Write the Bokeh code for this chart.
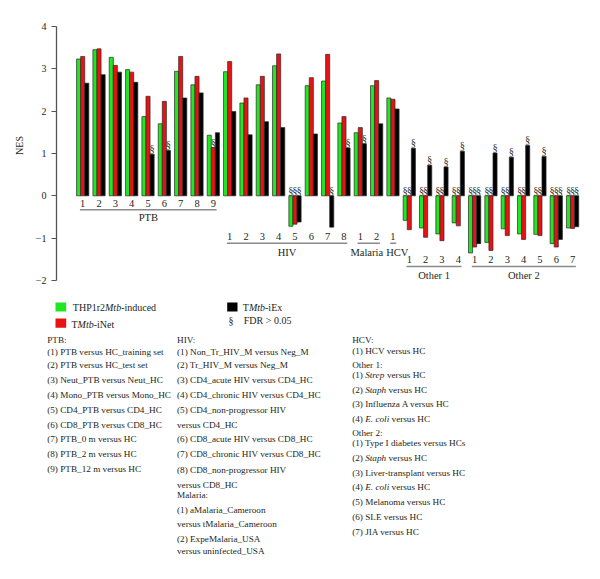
from bokeh.plotting import figure
from bokeh.models import Range1d, FixedTicker, ColumnDataSource
from bokeh.layouts import column
from bokeh.embed import file_html
from bokeh.resources import INLINE
from bokeh.core.properties import value

# ---------------- data ----------------
group_names = ["PTB", "HIV", "Malaria", "HCV", "Other 1", "Other 2"]
group_sizes = [9, 8, 2, 1, 4, 7]

thp1_induced = [3.23, 3.45, 3.27, 2.98, 1.87, 1.70, 2.94, 2.62, 1.43,
                2.93, 2.19, 2.62, 3.07, -0.72, 2.60, 2.71, 1.72,
                1.49, 2.60,
                2.31,
                -0.58, -0.76, -0.90, -0.64,
                -1.35, -1.10, -0.78, -0.90, -0.91, -1.13, -0.76]
tmtb_inet = [3.29, 3.47, 3.08, 2.92, 2.35, 2.23, 3.29, 2.82, 1.14,
             3.17, 2.31, 2.82, 3.35, -0.67, 2.79, 3.34, 1.87,
             1.61, 2.72,
             2.28,
             -0.80, -0.98, -1.06, -0.71,
             -1.21, -1.29, -0.94, -1.03, -0.94, -1.21, -0.77]
tmtb_iex = [2.66, 2.86, 2.92, 2.68, 0.98, 1.07, 2.31, 2.43, 1.49,
            1.99, 1.44, 1.75, 1.61, -0.62, 1.46, -0.74, 1.13,
            1.23, 1.70,
            2.05,
            1.12, 0.72, 0.68, 1.05,
            -1.13, 1.01, 0.91, 1.19, 0.93, -1.03, -0.73]

# FDR > 0.05 flags (1 = marked with §)
fdr_thp1 = [0, 0, 0, 0, 0, 0, 0, 0, 0,
            0, 0, 0, 0, 1, 0, 0, 0,
            0, 0,
            0,
            1, 1, 1, 1,
            1, 1, 1, 1, 1, 1, 1]
fdr_inet = [0, 0, 0, 0, 0, 0, 0, 0, 1,
            0, 0, 0, 0, 1, 0, 0, 0,
            0, 0,
            0,
            1, 1, 1, 1,
            1, 1, 1, 1, 1, 1, 1]
fdr_iex = [0, 0, 0, 0, 1, 1, 0, 0, 0,
           0, 0, 0, 0, 1, 0, 1, 1,
           1, 0,
           0,
           1, 1, 1, 1,
           1, 1, 1, 1, 1, 1, 1]

y_ticks = [-2, -1, 0, 1, 2, 3, 4]
y_tick_labels = ["\u22122", "\u22121", "0", "1", "2", "3", "4"]

ptb_notes = ["PTB:",
             "(1) PTB versus HC_training set",
             "(2) PTB versus HC_test set",
             "(3) Neut_PTB versus Neut_HC",
             "(4) Mono_PTB versus Mono_HC",
             "(5) CD4_PTB versus CD4_HC",
             "(6) CD8_PTB versus CD8_HC",
             "(7) PTB_0 m versus HC",
             "(8) PTB_2 m versus HC",
             "(9) PTB_12 m versus HC"]
hiv_notes = ["HIV:",
             "(1) Non_Tr_HIV_M versus Neg_M",
             "(2) Tr_HIV_M versus Neg_M",
             "(3) CD4_acute HIV versus CD4_HC",
             "(4) CD4_chronic HIV versus CD4_HC",
             "(5) CD4_non-progressor HIV",
             "versus CD4_HC",
             "(6) CD8_acute HIV versus CD8_HC",
             "(7) CD8_chronic HIV versus CD8_HC",
             "(8) CD8_non-progressor HIV",
             "versus CD8_HC",
             "Malaria:",
             "(1) aMalaria_Cameroon",
             "versus tMalaria_Cameroon",
             "(2) ExpeMalaria_USA",
             "versus uninfected_USA"]
# segments: (text, italic?)
other_notes = [[("HCV:", 0)],
               [("(1) HCV versus HC", 0)],
               [("Other 1:", 0)],
               [("(1) ", 0), ("Strep", 1), (" versus HC", 0)],
               [("(2) ", 0), ("Staph", 1), (" versus HC", 0)],
               [("(3) Influenza A versus HC", 0)],
               [("(4) ", 0), ("E. coli", 1), (" versus HC", 0)],
               [("Other 2:", 0)],
               [("(1) Type I diabetes versus HCs", 0)],
               [("(2) ", 0), ("Staph", 1), (" versus HC", 0)],
               [("(3) Liver-transplant versus HC", 0)],
               [("(4) ", 0), ("E. coli", 1), (" versus HC", 0)],
               [("(5) Melanoma versus HC", 0)],
               [("(6) SLE versus HC", 0)],
               [("(7) JIA versus HC", 0)]]

# ---------------- styling / layout ----------------
SERIF = "Liberation Serif"
TXT = "#231f20"
GREEN = "#22e622"
RED = "#e81212"
BLACK = "#000000"
colors = [GREEN, RED, BLACK]

W = 592
H1 = 290
H2 = 286
LEFT = 56
PX_GROUP = 16.33
PX_UNIT = 42.35
ZERO_SY = 195.3          # screen y of 0
G0_SX = 82.2             # screen x of first group centre


def sy(screen_y):
    return (ZERO_SY - screen_y) / PX_UNIT


x_start = -(G0_SX - LEFT) / PX_GROUP
x_end = x_start + (W - LEFT) / PX_GROUP
y_end = sy(0)
y_start = y_end - H1 / PX_UNIT

p1 = figure(width=W, height=H1, x_range=Range1d(x_start, x_end),
            y_range=Range1d(y_start, y_end), output_backend="svg",
            toolbar_location=None, x_axis_type=None,
            min_border_left=LEFT, min_border_right=0, min_border_top=0,
            min_border_bottom=0, outline_line_color=None, frame_align=False)
p1.grid.visible = False
ax = p1.yaxis[0]
ax.ticker = FixedTicker(ticks=y_ticks)
ax.major_label_overrides = {t: l for t, l in zip(y_ticks, y_tick_labels)}
ax.bounds = (min(y_ticks), max(y_ticks))
ax.axis_line_color = "#555555"
ax.axis_line_width = 1.3
ax.major_tick_line_color = "#555555"
ax.major_tick_line_width = 1.2
ax.major_tick_out = 5
ax.major_tick_in = 0
ax.minor_tick_line_color = None
ax.major_label_standoff = 5
ax.major_label_text_font = SERIF
ax.major_label_text_font_size = "10px"
ax.major_label_text_color = TXT
ax.axis_label = "NES"
ax.axis_label_text_font = SERIF
ax.axis_label_text_font_style = "normal"
ax.axis_label_text_font_size = "10px"
ax.axis_label_text_color = TXT
ax.axis_label_standoff = 8

n = len(thp1_induced)
idx = list(range(n))
offsets = [-0.25, 0.0, 0.25]
series = [thp1_induced, tmtb_inet, tmtb_iex]
flags = [fdr_thp1, fdr_inet, fdr_iex]

for vals, off, col in zip(series, offsets, colors):
    src = ColumnDataSource(dict(x=[i + off for i in idx], top=vals))
    p1.vbar(x="x", top="top", bottom=0, width=0.25, source=src,
            fill_color=col, line_color="#2a2a2a", line_width=0.7)

sx_, sy_, st_ = [], [], []
for vals, off, fl in zip(series, offsets, flags):
    for i in idx:
        if fl[i]:
            sx_.append(i + off)
            sy_.append(max(vals[i], 0))
            st_.append("\u00a7")
p1.text(x=sx_, y=sy_, text=st_, text_align="center", text_baseline="bottom",
        text_font=value(SERIF), text_font_size="10.5px", text_color="#333333")

# group numbering, underline and names
num_y = [202.7, 236, 236, 236, 259, 259]
line_y = [209.3, 242.7, 242.7, 242.7, 266, 266]
name_y = [217, 252, 252, 252, 274.5, 274.5]
name_dx = [0, 0, -2, 4, 0, 0]
nx, ny, nt = [], [], []
lx0, lx1, ly = [], [], []
gx, gy = [], []
start = 0
for g, size in enumerate(group_sizes):
    for k in range(size):
        nx.append(start + k)
        ny.append(sy(num_y[g]))
        nt.append(str(k + 1))
    a = start - 0.17
    b = start + size - 1 + 0.2
    lx0.append(a)
    lx1.append(b)
    ly.append(sy(line_y[g]))
    gx.append((a + b) / 2)
    gy.append(sy(name_y[g]))
    start += size
p1.text(x=nx, y=ny, text=nt, text_align="center", text_baseline="middle",
        text_font=value(SERIF), text_font_size="10.5px", text_color=TXT)
p1.segment(x0=lx0, y0=ly, x1=lx1, y1=ly, line_color="#8a8a8a", line_width=1.4)
p1.text(x=gx, y=gy, text=group_names, x_offset=name_dx, text_align="center",
        text_baseline="middle", text_font=value(SERIF), text_font_size="10.5px",
        text_color=TXT)

# ---------------- lower panel: legend and notes ----------------
p2 = figure(width=W, height=H2, x_range=Range1d(0, W), y_range=Range1d(H2, 0),
            output_backend="svg", toolbar_location=None, x_axis_type=None,
            y_axis_type=None, min_border=0, outline_line_color=None,
            frame_align=False)
p2.grid.visible = False
OX, OY = 0, H1  # screen offset of p2

# Times New Roman metrics (1/1000 em) for segment placement
REG = {' ': 250, '(': 333, ')': 333, 'T': 611, 'H': 722, 'P': 556,
       'r': 333, '-': 333}
for d in "0123456789":
    REG[d] = 500
ITA = {'M': 833, 't': 278, 'b': 500, 'S': 500, 'r': 389, 'e': 444, 'p': 500,
       'a': 500, 'h': 500, 'E': 611, '.': 250, ' ': 250, 'c': 444, 'o': 500,
       'l': 278, 'i': 278}


def seg_width(s, ital, size):
    tab = ITA if ital else REG
    return sum(tab.get(c, 500) for c in s) * size / 1000.0


norm = dict(x=[], y=[], t=[])
ital = dict(x=[], y=[], t=[])


def add_segments(segs, x, y, size):
    cx = x
    for s, it in segs:
        lead = len(s) - len(s.lstrip(' '))
        cx += seg_width(' ' * lead, it, size)
        body = s.strip(' ')
        d = ital if it else norm
        d["x"].append(cx - OX)
        d["y"].append(y - OY)
        d["t"].append(body)
        cx += seg_width(body, it, size)
        trail = len(s) - len(s.rstrip(' '))
        cx += seg_width(' ' * trail, it, size)


LEG = 10
# legend squares
p2.quad(left=[55 - OX, 55 - OX, 226.7 - OX], right=[65.7 - OX, 65.7 - OX, 237 - OX],
        top=[302 - OY, 318 - OY, 302 - OY], bottom=[311 - OY, 327.3 - OY, 311 - OY],
        fill_color=colors, line_color=None)
leg_segs = [[("THP1r2", 0), ("Mtb", 1), ("-induced", 0)],
            [("T", 0), ("Mtb", 1), ("-iNet", 0)],
            [("T", 0), ("Mtb", 1), ("-iEx", 0)]]
leg_pos = [(72.3, 306.5), (71, 323.5), (242.3, 306.5)]
ln = dict(x=[], y=[], t=[])
li = dict(x=[], y=[], t=[])
for segs, (x, y) in zip(leg_segs, leg_pos):
    cx = x
    for s, it in segs:
        d = li if it else ln
        d["x"].append(cx - OX)
        d["y"].append(y - OY)
        d["t"].append(s)
        cx += seg_width(s, it, LEG)
ln["x"].append(243.3 - OX)
ln["y"].append(320 - OY)
ln["t"].append("FDR > 0.05")
p2.text(x=ln["x"], y=ln["y"], text=ln["t"], text_align="left", text_baseline="middle",
        text_font=value(SERIF), text_font_size="10px", text_color=TXT)
p2.text(x=li["x"], y=li["y"], text=li["t"], text_align="left", text_baseline="middle",
        text_font=value(SERIF), text_font_style="italic", text_font_size="10px",
        text_color=TXT)
p2.text(x=[230.5 - OX], y=[320 - OY], text=["\u00a7"], text_align="center",
        text_baseline="middle", text_font=value(SERIF), text_font_size="10px",
        text_color=TXT)

NOTE = 9.2
ptb_y = [339, 351, 364, 379, 394, 409, 424, 438.5, 453.5, 468.5]
hiv_y = [339, 351, 364, 379, 394, 409, 424, 438.5, 453.5, 469.5, 484.5, 494.5,
         509.5, 523, 538.5, 550.5]
oth_y = [339, 350.5, 364.5, 374.5, 389, 403.5, 418, 432, 442.5, 457, 472, 486.5,
         501, 516, 531]
for t, y in zip(ptb_notes, ptb_y):
    add_segments([(t, 0)], 46.7, y, NOTE)
for t, y in zip(hiv_notes, hiv_y):
    add_segments([(t, 0)], 176.5, y, NOTE)
for segs, y in zip(other_notes, oth_y):
    add_segments(segs, 351.7, y, NOTE)

p2.text(x=norm["x"], y=norm["y"], text=norm["t"], text_align="left",
        text_baseline="middle", text_font=value(SERIF), text_font_size="%.1fpx" % NOTE,
        text_color=TXT)
p2.text(x=ital["x"], y=ital["y"], text=ital["t"], text_align="left",
        text_baseline="middle", text_font=value(SERIF), text_font_style="italic",
        text_font_size="%.1fpx" % NOTE, text_color=TXT)

layout = column(p1, p2, spacing=0)
open("out.html", "w").write(file_html(layout, INLINE))
